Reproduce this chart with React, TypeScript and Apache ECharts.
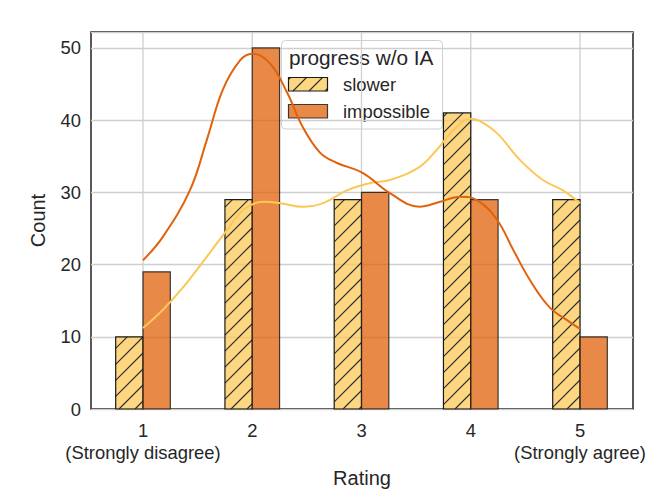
import React, { useEffect, useRef } from 'react';
import * as echarts from 'echarts';

const ratings = [1, 2, 3, 4, 5];
const ratingNotes = ['(Strongly disagree)', '', '', '', '(Strongly agree)'];
const seriesNames = ['slower', 'impossible'];
const slowerCounts = [10, 29, 29, 41, 29];
const impossibleCounts = [19, 50, 30, 29, 10];
const yTicks = [0, 10, 20, 30, 40, 50];
const legendTitle = 'progress w/o IA';

const slowerKdeX = [1.0, 1.18, 1.37, 1.585, 1.77, 1.92, 2.1, 2.26, 2.46, 2.65, 2.87, 3.08, 3.26, 3.53, 3.69, 3.84, 4.0, 4.08, 4.24, 4.45, 4.66, 4.84, 5.0];
const slowerKdeY = [11.2, 13.7, 16.9, 21.1, 24.8, 27.6, 28.7, 28.5, 28.0, 28.5, 30.3, 31.3, 31.7, 33.5, 35.9, 38.6, 40.2, 39.9, 38.2, 34.5, 31.7, 30.3, 28.5];
const impossibleKdeX = [1.0, 1.18, 1.43, 1.585, 1.73, 1.89, 2.0, 2.16, 2.32, 2.46, 2.62, 2.77, 3.01, 3.26, 3.53, 3.72, 3.9, 4.06, 4.24, 4.39, 4.54, 4.72, 4.91, 5.0];
const impossibleKdeY = [20.6, 23.8, 30.3, 37.3, 44.2, 48.3, 49.2, 47.9, 43.8, 39.1, 35.5, 34.1, 32.7, 29.9, 28.0, 28.7, 29.4, 28.9, 26.2, 22.0, 17.9, 14.1, 12.0, 11.1];

const FONT = '"Liberation Sans", Arial, Helvetica, sans-serif';
const TEXT = '#262626';
const GRID = '#cfcfcf';
const SLOWER_LINE = '#fbc856';
const SLOWER_FILL = 'rgba(251,200,86,0.75)';
const IMP_LINE = '#e0620c';
const IMP_FILL = 'rgba(224,98,10,0.75)';
const HATCH_STEP = 16;
const BAR_W = 0.25;

function hatchSegments(x: number, y: number, w: number, h: number, step: number) {
  const segs: number[][] = [];
  const cStart = Math.ceil((x + y) / step) * step;
  for (let c = cStart; c <= x + w + y + h; c += step) {
    const xa = Math.max(x, c - (y + h));
    const xb = Math.min(x + w, c - y);
    if (xb - xa > 0.5) segs.push([xa, c - xa, xb, c - xb]);
  }
  return segs;
}

function barElements(x: number, y: number, w: number, h: number, fill: string, hatched: boolean, edge: string) {
  const children: any[] = [
    { type: 'rect', shape: { x, y, width: w, height: h }, style: { fill, stroke: 'none' } },
  ];
  if (hatched) {
    hatchSegments(x, y, w, h, HATCH_STEP).forEach((s) => {
      children.push({
        type: 'line',
        shape: { x1: s[0], y1: s[1], x2: s[2], y2: s[3] },
        style: { stroke: '#2a2a2a', lineWidth: 1.1 },
      });
    });
  }
  children.push({
    type: 'rect',
    shape: { x, y, width: w, height: h },
    style: { fill: 'none', stroke: edge, lineWidth: 1.2 },
  });
  return children;
}

const makeBarRenderer = (offset: number, fill: string, hatched: boolean, edge: string) =>
  (params: any, api: any) => {
    const xv = api.value(0);
    const yv = api.value(1);
    const tl = api.coord([xv + offset, yv]);
    const br = api.coord([xv + offset + BAR_W, 0]);
    return {
      type: 'group',
      children: barElements(tl[0], tl[1], br[0] - tl[0], br[1] - tl[1], fill, hatched, edge),
    };
  };

export default function App() {
  const ref = useRef<HTMLDivElement>(null);
  useEffect(() => {
    if (!ref.current) return;
    const chart = echarts.init(ref.current, undefined, { renderer: 'svg' });

    const legendX = 281.5;
    const legendY = 40.5;
    const legendChildren: any[] = [
      {
        type: 'rect',
        shape: { x: legendX, y: legendY, width: 161, height: 88.5, r: 4 },
        style: { fill: 'rgba(255,255,255,0.8)', stroke: '#d0d0d0', lineWidth: 1 },
      },
      {
        type: 'text',
        style: { text: legendTitle, x: 289, y: 57, fontSize: 20.8, fontFamily: FONT, fill: TEXT, align: 'left', verticalAlign: 'middle' },
      },
      ...barElements(288.5, 77.5, 39, 13.5, SLOWER_FILL, true, '#1a1a1a'),
      {
        type: 'text',
        style: { text: seriesNames[0], x: 343, y: 84.5, fontSize: 18.4, fontFamily: FONT, fill: TEXT, align: 'left', verticalAlign: 'middle' },
      },
      ...barElements(288.5, 104.5, 39, 13.5, IMP_FILL, false, 'rgba(30,30,30,0.85)'),
      {
        type: 'text',
        style: { text: seriesNames[1], x: 343, y: 111.5, fontSize: 18.4, fontFamily: FONT, fill: TEXT, align: 'left', verticalAlign: 'middle' },
      },
    ];

    chart.setOption({
      animation: false,
      backgroundColor: '#ffffff',
      textStyle: { fontFamily: FONT },
      grid: {
        left: 91,
        top: 32,
        width: 542,
        height: 377,
        show: true,
        borderColor: '#000000',
        borderWidth: 1.3,
        backgroundColor: 'transparent',
      },
      xAxis: {
        type: 'value',
        min: 0.524,
        max: 5.485,
        axisLine: { show: false },
        axisTick: { show: false },
        splitLine: { show: false },
        axisLabel: {
          customValues: ratings,
          formatter: (v: number) => {
            const i = ratings.indexOf(v);
            return ratingNotes[i] ? `${v}\n${ratingNotes[i]}` : `${v}`;
          },
          fontSize: 18.4,
          lineHeight: 22,
          margin: 10,
          color: TEXT,
          fontFamily: FONT,
        },
        name: 'Rating',
        nameLocation: 'middle',
        nameGap: 56,
        nameTextStyle: { fontSize: 20, color: TEXT, fontFamily: FONT },
      },
      yAxis: {
        type: 'value',
        min: 0,
        max: 52.2,
        interval: 10,
        axisLine: { show: false },
        axisTick: { show: false },
        axisLabel: {
          customValues: yTicks,
          formatter: (v: number) => (yTicks.indexOf(v) >= 0 ? String(v) : ''),
          fontSize: 18.4,
          margin: 10,
          color: TEXT,
          fontFamily: FONT,
        },
        splitLine: { show: true, lineStyle: { color: GRID, width: 1.3 } },
        name: 'Count',
        nameLocation: 'middle',
        nameGap: 43,
        nameTextStyle: { fontSize: 20, color: TEXT, fontFamily: FONT },
      },
      series: [
        {
          type: 'custom',
          name: 'vgrid',
          z: 1,
          silent: true,
          data: ratings.map((r) => [r, 0]),
          renderItem: (params: any, api: any) => {
            const p = api.coord([api.value(0), 0]);
            const cs = params.coordSys;
            return {
              type: 'line',
              shape: { x1: p[0], y1: cs.y, x2: p[0], y2: cs.y + cs.height },
              style: { stroke: GRID, lineWidth: 1.3 },
            };
          },
        },
        {
          type: 'custom',
          name: seriesNames[0],
          z: 3,
          data: ratings.map((r, i) => [r, slowerCounts[i]]),
          renderItem: makeBarRenderer(-BAR_W, SLOWER_FILL, true, '#1a1a1a'),
        },
        {
          type: 'custom',
          name: seriesNames[1],
          z: 3,
          data: ratings.map((r, i) => [r, impossibleCounts[i]]),
          renderItem: makeBarRenderer(0, IMP_FILL, false, 'rgba(30,30,30,0.85)'),
        },
        {
          type: 'line',
          name: seriesNames[0] + ' kde',
          z: 5,
          smooth: 0.4,
          showSymbol: false,
          symbol: 'none',
          lineStyle: { color: SLOWER_LINE, width: 2 },
          data: slowerKdeX.map((x, i) => [x, slowerKdeY[i]]),
        },
        {
          type: 'line',
          name: seriesNames[1] + ' kde',
          z: 5,
          smooth: 0.4,
          showSymbol: false,
          symbol: 'none',
          lineStyle: { color: IMP_LINE, width: 2 },
          data: impossibleKdeX.map((x, i) => [x, impossibleKdeY[i]]),
        },
      ],
      graphic: [{ type: 'group', z: 100, children: legendChildren }],
    });

    return () => chart.dispose();
  }, []);

  return <div ref={ref} style={{ position: 'absolute', left: 0, top: 0, width: 664, height: 498 }} />;
}
